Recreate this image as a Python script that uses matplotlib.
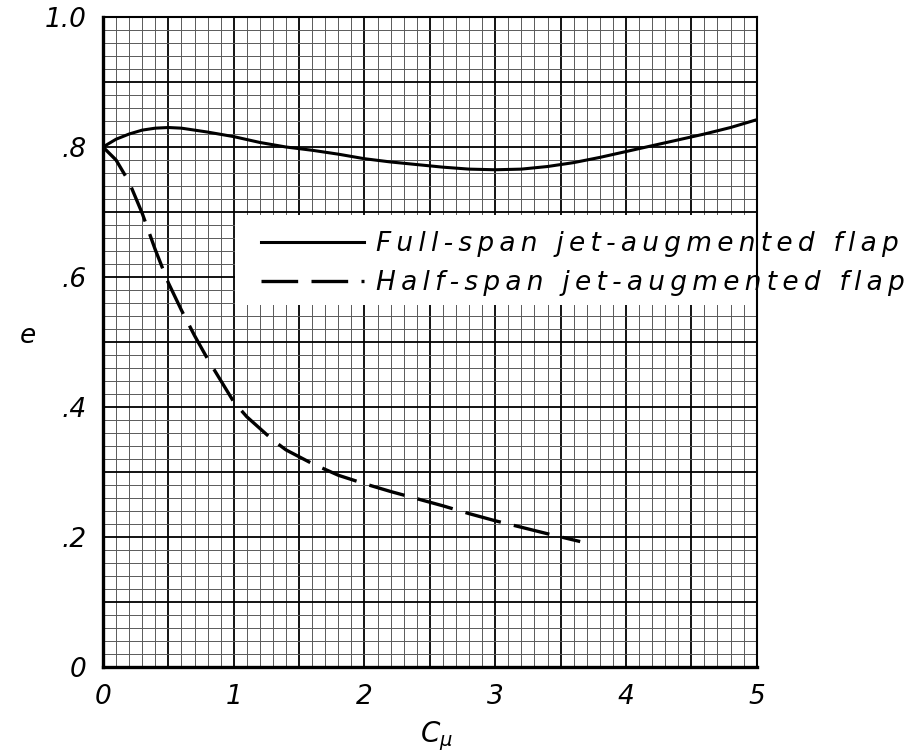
import matplotlib
matplotlib.use("Agg")

import matplotlib.pyplot as plt
from matplotlib.patches import Rectangle
import numpy as np

# data
c_mu_full = [0, 0.1, 0.2, 0.3, 0.4, 0.5, 0.6, 0.8, 1.0, 1.2, 1.4, 1.6, 1.8, 2.0,
             2.2, 2.4, 2.6, 2.8, 3.0, 3.2, 3.4, 3.6, 3.8, 4.0, 4.2, 4.4, 4.6, 4.8, 5.0]
e_full = [0.800, 0.812, 0.820, 0.826, 0.829, 0.830, 0.829, 0.823, 0.816, 0.807,
          0.800, 0.795, 0.789, 0.782, 0.777, 0.773, 0.769, 0.766, 0.765, 0.766,
          0.770, 0.776, 0.784, 0.793, 0.802, 0.811, 0.820, 0.830, 0.842]

c_mu_half = [0, 0.1, 0.2, 0.3, 0.4, 0.5, 0.6, 0.7, 0.8, 0.9, 1.0, 1.1, 1.2, 1.3,
             1.4, 1.6, 1.8, 2.0, 2.2, 2.4, 2.6, 2.8, 3.0, 3.2, 3.4, 3.65]
e_half = [0.800, 0.780, 0.746, 0.698, 0.642, 0.591, 0.549, 0.510, 0.474, 0.441,
          0.408, 0.385, 0.367, 0.349, 0.334, 0.313, 0.295, 0.282, 0.270, 0.259,
          0.248, 0.236, 0.225, 0.215, 0.205, 0.193]

series_labels = ["Full-span jet-augmented flap", "Half-span jet-augmented flap"]
x_labels = ["0", "1", "2", "3", "4", "5"]
y_labels = ["0", ".2", ".4", ".6", ".8", "1.0"]

plt.rcParams["font.family"] = ["DejaVu Sans"]
plt.rcParams["mathtext.fontset"] = "dejavusans"

fig = plt.figure(figsize=(9.13, 7.53), dpi=100)
ax = fig.add_axes([0.1128, 0.1142, 0.716, 0.8632])
ax.set_xlim(0, 5)
ax.set_ylim(0, 1.0)

# graph paper grid: heavy every 0.5 / 0.1, light every 0.1 / 0.02
ax.set_xticks(np.arange(0, 5.01, 0.5))
ax.set_xticks(np.arange(0, 5.01, 0.1), minor=True)
ax.set_yticks(np.arange(0, 1.001, 0.1))
ax.set_yticks(np.arange(0, 1.001, 0.02), minor=True)
ax.set_xticklabels([x_labels[i // 2] if i % 2 == 0 else "" for i in range(11)])
ax.set_yticklabels([y_labels[i // 2] if i % 2 == 0 else "" for i in range(11)])
ax.grid(which="major", color="black", lw=1.3)
ax.grid(which="minor", color="0.35", lw=0.7)
ax.set_axisbelow(True)
ax.tick_params(which="both", length=0)
ax.tick_params(axis="x", pad=12, labelsize=19)
ax.tick_params(axis="y", pad=12, labelsize=19)
for t in ax.get_xticklabels() + ax.get_yticklabels():
    t.set_style("italic")

for side in ["left", "bottom"]:
    ax.spines[side].set_linewidth(2.4)
for side in ["top", "right"]:
    ax.spines[side].set_linewidth(1.5)

ax.plot(c_mu_full, e_full, color="black", lw=2.2, label=series_labels[0])
ax.plot(c_mu_half, e_half, color="black", lw=2.4, dashes=(11, 4),
        label=series_labels[1])

# white box behind the legend, cut out of the grid
ax.add_patch(Rectangle((1.012, 0.557), 5.5, 0.139, facecolor="white",
                       edgecolor="none", zorder=2.5, clip_on=False))

def spaced(s):
    return "\u2009".join(s)

handles, labels = ax.get_legend_handles_labels()
leg = ax.legend(handles, [spaced(l) for l in labels], loc="upper left",
                bbox_to_anchor=(1.05, 0.703), bbox_transform=ax.transData,
                frameon=False, fontsize=19, handlelength=3.9,
                handletextpad=0.45, labelspacing=0.5, borderpad=0.3)
for t in leg.get_texts():
    t.set_style("italic")
leg.set_zorder(3)

ax.set_ylabel("e", fontsize=19, style="italic", rotation=0)
ax.yaxis.set_label_coords(-0.115, 0.49)
ax.set_xlabel(r"$C_\mu$", fontsize=20)
ax.xaxis.set_label_coords(0.51, -0.08)

fig.savefig("out.png", dpi=100)
